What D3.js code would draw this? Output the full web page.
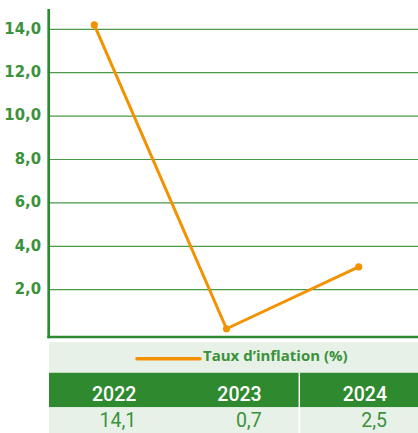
<!DOCTYPE html>
<html><head><meta charset="utf-8">
<script src="https://cdn.jsdelivr.net/npm/d3@7"></script>
<style>html,body{margin:0;padding:0;background:#fff;}svg{display:block;}</style>
</head><body>
<svg id="c" width="418" height="433"></svg>
<script>
// data
const years = ["2022", "2023", "2024"];
const lineValues = [14.2, 0.2, 3.05];          // as plotted on the chart
const tableLabels = ["14,1", "0,7", "2,5"];     // values shown in the table
const yTicks = [2, 4, 6, 8, 10, 12, 14];
const seriesName = "Taux d\u2019inflation (%)";

const GREEN = "#2f8a2f", TXT = "#3a923a", ORANGE = "#f39200", LIGHT = "#e8f1e8";
const svg = d3.select("#c");

const y = d3.scaleLinear().domain([0, 14]).range([333.1, 29.3]);
const x = d3.scalePoint().domain(years).range([94.3, 358.7]);
const fmt = v => d3.format(".1f")(v).replace(".", ",");

// grid
svg.append("g").selectAll("line").data(yTicks).join("line")
  .attr("x1", 50).attr("x2", 418)
  .attr("y1", d => y(d)).attr("y2", d => y(d))
  .attr("stroke", "#4a9a4a").attr("stroke-width", 1.2);

// y axis labels
svg.append("g").selectAll("text").data(yTicks).join("text")
  .attr("x", 41).attr("y", d => y(d) + 4.2)
  .attr("text-anchor", "end")
  .attr("font-family", "'DejaVu Sans Condensed', 'DejaVu Sans', sans-serif")
  .attr("font-weight", "bold").attr("font-size", 16.5)
  .attr("fill", TXT).text(d => fmt(d));

// frame
svg.append("line").attr("x1", 48.7).attr("x2", 48.7).attr("y1", 9).attr("y2", 338.3)
  .attr("stroke", GREEN).attr("stroke-width", 2.7);
svg.append("line").attr("x1", 47.3).attr("x2", 418).attr("y1", 337).attr("y2", 337)
  .attr("stroke", GREEN).attr("stroke-width", 2.7);

// line
const pts = years.map((yr, i) => [x(yr), y(lineValues[i])]);
svg.append("path").attr("d", d3.line()(pts))
  .attr("fill", "none").attr("stroke", ORANGE).attr("stroke-width", 3)
  .attr("stroke-linejoin", "round");
svg.append("g").selectAll("circle").data(pts).join("circle")
  .attr("cx", d => d[0]).attr("cy", d => d[1]).attr("r", 3.6).attr("fill", ORANGE);

// legend row
svg.append("rect").attr("x", 49).attr("y", 342).attr("width", 369).attr("height", 30.2).attr("fill", LIGHT);
svg.append("line").attr("x1", 137).attr("x2", 200).attr("y1", 358.7).attr("y2", 358.7)
  .attr("stroke", ORANGE).attr("stroke-width", 3.5).attr("stroke-linecap", "round");
svg.append("text").attr("x", 203).attr("y", 361.3)
  .attr("font-family", "'Open Sans', sans-serif").attr("font-weight", "bold").attr("font-size", 15)
  .attr("fill", TXT).text(seriesName);

// table
const cols = d3.scaleBand().domain(years).range([49, 425]);
svg.append("rect").attr("x", 49).attr("y", 372.7).attr("width", 369).attr("height", 34.6).attr("fill", GREEN);
svg.append("rect").attr("x", 49).attr("y", 407.3).attr("width", 369).attr("height", 26).attr("fill", LIGHT);
svg.append("line").attr("x1", 299.3).attr("x2", 299.3).attr("y1", 372.7).attr("y2", 433)
  .attr("stroke", "#fff").attr("stroke-width", 1.5);

svg.append("g").selectAll("text").data(years).join("text")
  .attr("x", d => cols(d) + cols.bandwidth() - 38).attr("y", 400.7)
  .attr("text-anchor", "end")
  .attr("font-family", "Roboto, sans-serif").attr("font-weight", 500).attr("font-size", 19.5)
  .attr("fill", "#fff").text(d => d);

svg.append("g").selectAll("text").data(years).join("text")
  .attr("x", d => cols(d) + cols.bandwidth() - 38).attr("y", 427.3)
  .attr("text-anchor", "end")
  .attr("font-family", "Roboto, sans-serif").attr("font-weight", 400).attr("font-size", 19.5)
  .attr("fill", TXT).text((d, i) => tableLabels[i]);
</script>
</body></html>
